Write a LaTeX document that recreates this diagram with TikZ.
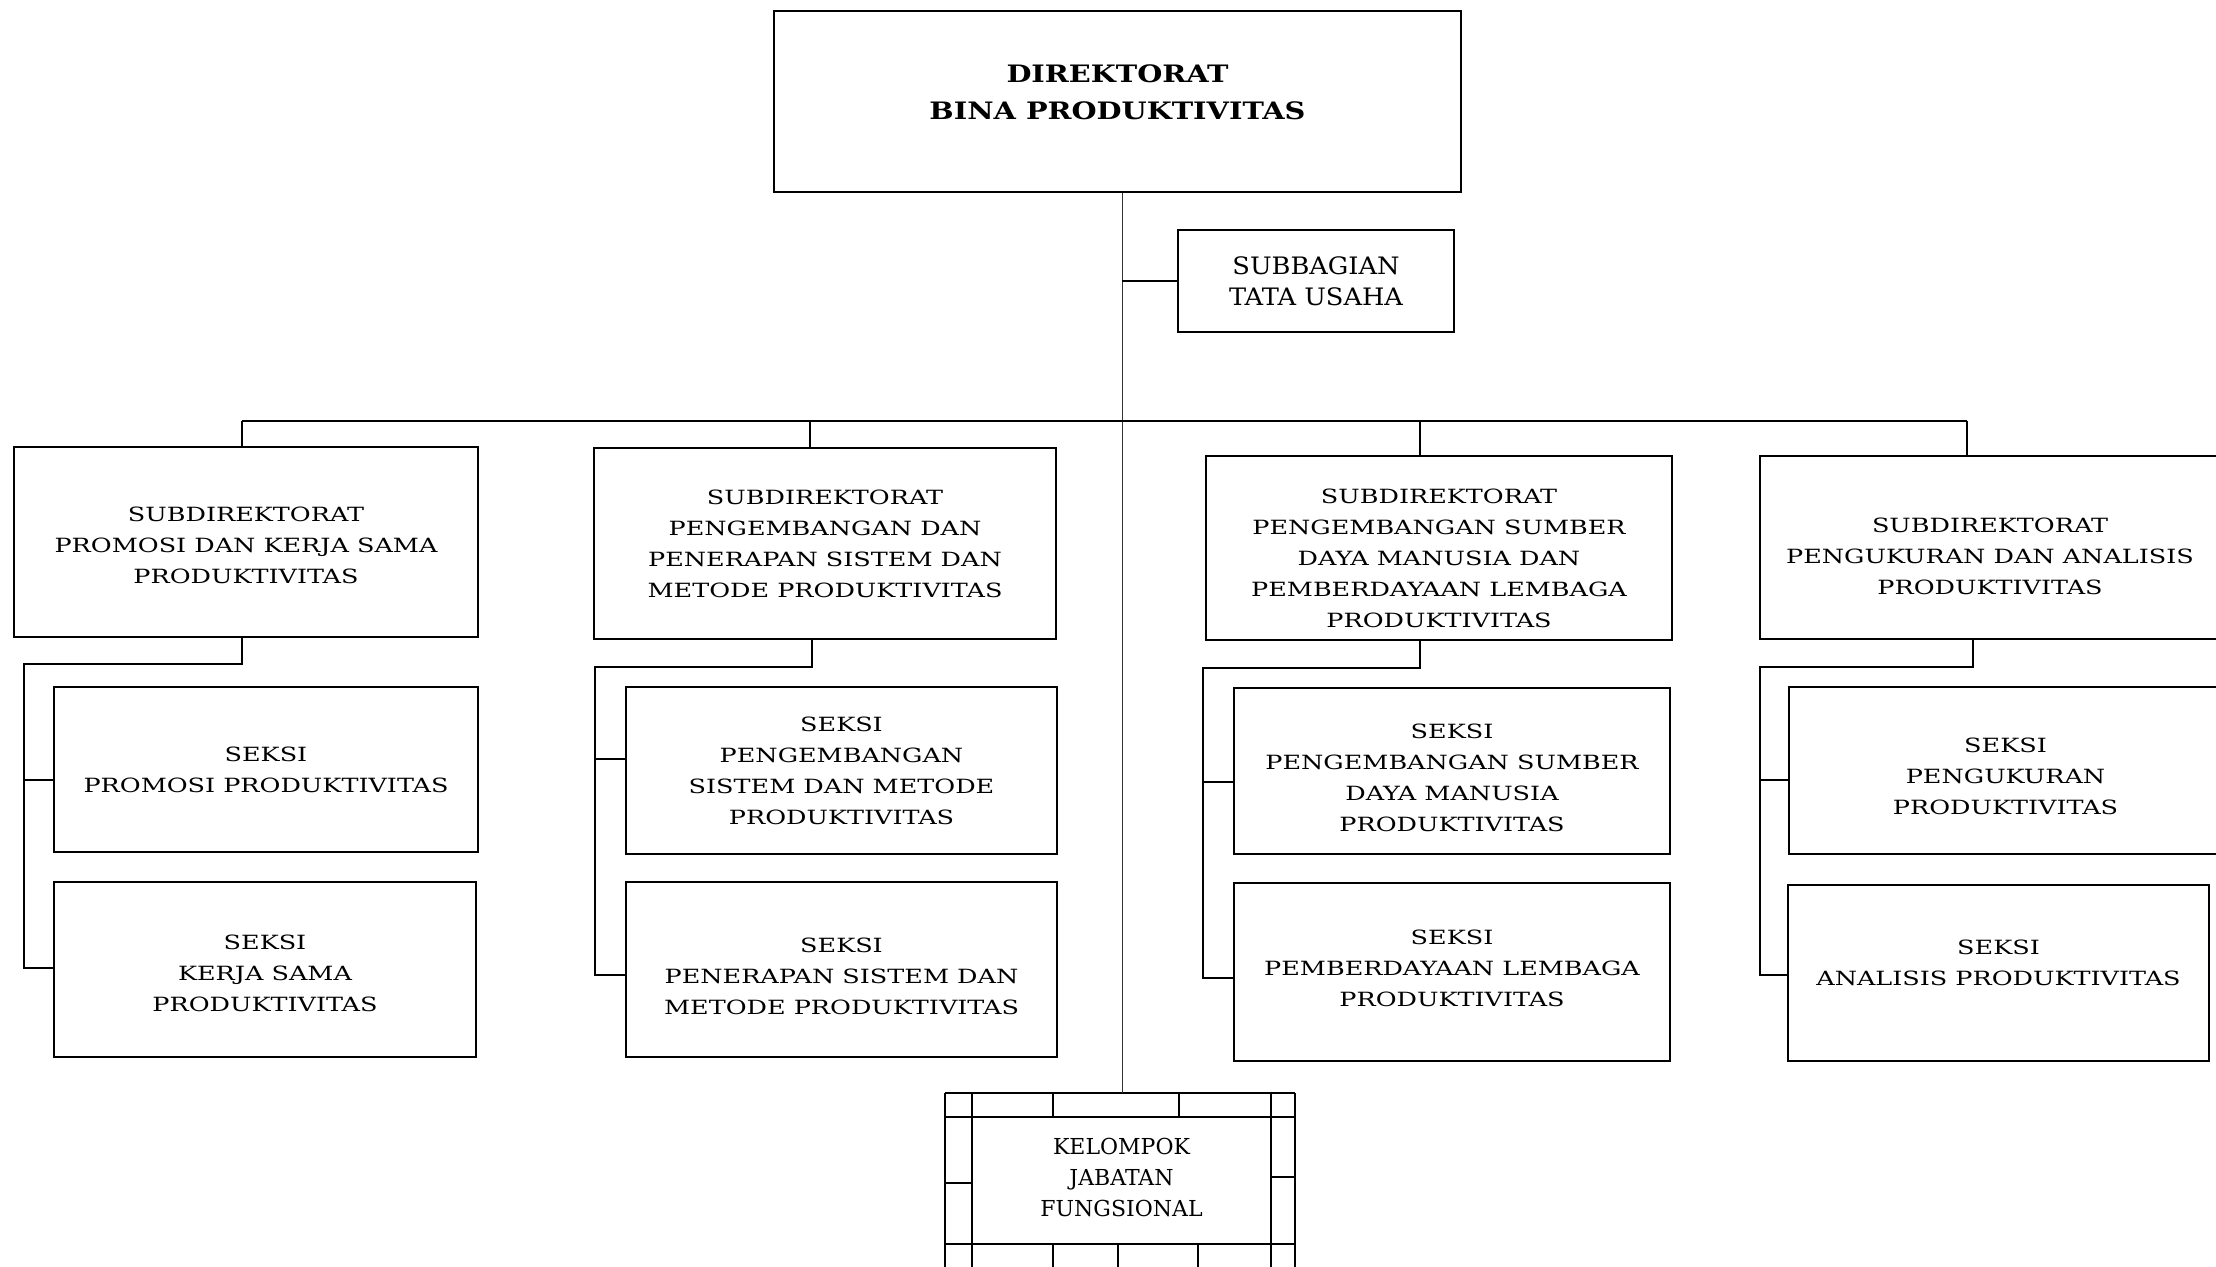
\documentclass[tikz,border=0pt]{standalone}
\usepackage{fontspec}
\setmainfont{DejaVu Serif}
\newfontfamily\widefont[FakeStretch=1.3]{DejaVu Serif}
\newfontfamily\headfont[FakeStretch=1.2]{DejaVu Serif}
\newfontfamily\stafffont[FakeStretch=1.07]{DejaVu Serif}
\newfontfamily\plainfont{DejaVu Serif}

% vertical fine-tuning of a node's text block:
% \pushdown{s} (start of first line) moves the block down by s,
% \pullup{s} (end of last line) moves it up by s
\newcommand\pushdown[1]{\rule{0pt}{\dimexpr 7.3pt+#1*2\relax}}
\newcommand\pullup[1]{\rule[-\dimexpr #1*2\relax]{0pt}{0pt}}

\tikzset{
  unitbox/.style={draw, line width=1pt, align=center, inner sep=0pt,
    font=\widefont\fontsize{9.8}{15.5}\selectfont},
  headbox/.style={draw, line width=1pt, align=center, inner sep=0pt,
    font=\headfont\bfseries\fontsize{12}{18.5}\selectfont},
  staffbox/.style={draw, line width=1pt, align=center, inner sep=0pt,
    font=\stafffont\fontsize{12}{15.5}\selectfont},
  grouptext/.style={align=center, inner sep=0pt,
    font=\plainfont\fontsize{11}{15.5}\selectfont},
  conn/.style={line width=0.8pt},
  spine/.style={line width=0.5pt, black!80},
  grid/.style={line width=0.9pt},
}

\begin{document}
\begin{tikzpicture}[x=0.5pt, y=-0.5pt]
\useasboundingbox (0,0) rectangle (2216,1267);
\clip (0,0) rectangle (2216,1267);
\fill[white] (0,0) rectangle (2216,1267);

% directorate and administrative unit
\node[headbox, minimum width=343.5pt, minimum height=90.5pt] (dir) at (1117.5,101.5)
  {DIREKTORAT\\BINA PRODUKTIVITAS\pullup{4.5pt}};
\node[staffbox, minimum width=138pt, minimum height=51pt] (tu) at (1316,281)
  {SUBBAGIAN\\TATA USAHA};

% subdirectorates
\node[unitbox, minimum width=232pt, minimum height=95pt] (sd1) at (246,542)
  {\pushdown{1.5pt}SUBDIREKTORAT\\PROMOSI DAN KERJA SAMA\\PRODUKTIVITAS};
\node[unitbox, minimum width=231pt, minimum height=95.5pt] (sd2) at (825,543.5)
  {SUBDIREKTORAT\\PENGEMBANGAN DAN\\PENERAPAN SISTEM DAN\\METODE PRODUKTIVITAS};
\node[unitbox, minimum width=233pt, minimum height=92pt] (sd3) at (1439,548)
  {\pushdown{5pt}SUBDIREKTORAT\\PENGEMBANGAN SUMBER\\DAYA MANUSIA DAN\\PEMBERDAYAAN LEMBAGA\\PRODUKTIVITAS};
\node[unitbox, minimum width=230pt, minimum height=91.5pt] (sd4) at (1990,547.5)
  {\pushdown{4.25pt}SUBDIREKTORAT\\PENGUKURAN DAN ANALISIS\\PRODUKTIVITAS};

% sections
\node[unitbox, minimum width=212pt, minimum height=82.5pt] (s11) at (266,769.5)
  {SEKSI\\PROMOSI PRODUKTIVITAS};
\node[unitbox, minimum width=211pt, minimum height=87.5pt] (s12) at (265,969.5)
  {\pushdown{2pt}SEKSI\\KERJA SAMA\\PRODUKTIVITAS};
\node[unitbox, minimum width=215.5pt, minimum height=83.5pt] (s21) at (841.5,770.5)
  {SEKSI\\PENGEMBANGAN\\SISTEM DAN METODE\\PRODUKTIVITAS};
\node[unitbox, minimum width=215.5pt, minimum height=87.5pt] (s22) at (841.5,969.5)
  {\pushdown{3.5pt}SEKSI\\PENERAPAN SISTEM DAN\\METODE PRODUKTIVITAS};
\node[unitbox, minimum width=218pt, minimum height=83pt] (s31) at (1452,771)
  {\pushdown{3.5pt}SEKSI\\PENGEMBANGAN SUMBER\\DAYA MANUSIA\\PRODUKTIVITAS};
\node[unitbox, minimum width=218pt, minimum height=89pt] (s32) at (1452,972)
  {SEKSI\\PEMBERDAYAAN LEMBAGA\\PRODUKTIVITAS\pullup{2pt}};
\node[unitbox, minimum width=216.5pt, minimum height=83.5pt] (s41) at (2005.5,770.5)
  {\pushdown{3pt}SEKSI\\PENGUKURAN\\PRODUKTIVITAS};
\node[unitbox, minimum width=210.5pt, minimum height=88pt] (s42) at (1998.5,973)
  {SEKSI\\ANALISIS PRODUKTIVITAS\pullup{5pt}};

% functional group: framed grid around the central cell
\draw[grid] (945,1093) -- (1295,1093);
\draw[grid] (945,1117) -- (1295,1117);
\draw[grid] (945,1244) -- (1295,1244);
\foreach \gx in {945,972,1271,1295} \draw[grid] (\gx,1093) -- (\gx,1290);
\foreach \gx in {1053,1179} \draw[grid] (\gx,1093) -- (\gx,1117);
\foreach \gx in {1053,1118,1198} \draw[grid] (\gx,1244) -- (\gx,1290);
\draw[grid] (945,1183) -- (972,1183);
\draw[grid] (1271,1177) -- (1295,1177);
\node[grouptext, minimum width=149.5pt, minimum height=63.5pt] (kfg) at (1121.5,1180.5)
  {KELOMPOK\\JABATAN\\FUNGSIONAL\pullup{1.5pt}};

% main spine
\coordinate (ktop) at (1122,1093);
\draw[spine] (dir.south -| ktop) -- (ktop);
\draw[conn] (ktop |- tu.west) -- (tu.west);

% bus to the subdirectorates
\coordinate (d1) at (242,421);
\coordinate (d2) at (810,421);
\coordinate (d3) at (1420,421);
\coordinate (d4) at (1967,421);
\draw[conn] (d1) -- (d4);
\draw[conn] (d1) -- (d1 |- sd1.north);
\draw[conn] (d2) -- (d2 |- sd2.north);
\draw[conn] (d3) -- (d3 |- sd3.north);
\draw[conn] (d4) -- (d4 |- sd4.north);

% section rails
\draw[conn] (d1 |- sd1.south) |- (24,664) -- (24,968) -- (s12.west |- 0,968);
\draw[conn] (24,780) -- (s11.west |- 0,780);
\draw[conn] (812,0 |- sd2.south) |- (595,667) -- (595,975) -- (s22.west |- 0,975);
\draw[conn] (595,759) -- (s21.west |- 0,759);
\draw[conn] (d3 |- sd3.south) |- (1203,668) -- (1203,978) -- (s32.west |- 0,978);
\draw[conn] (1203,782) -- (s31.west |- 0,782);
\draw[conn] (1973,0 |- sd4.south) |- (1760,667) -- (1760,975) -- (s42.west |- 0,975);
\draw[conn] (1760,780) -- (s41.west |- 0,780);
\end{tikzpicture}
\end{document}
